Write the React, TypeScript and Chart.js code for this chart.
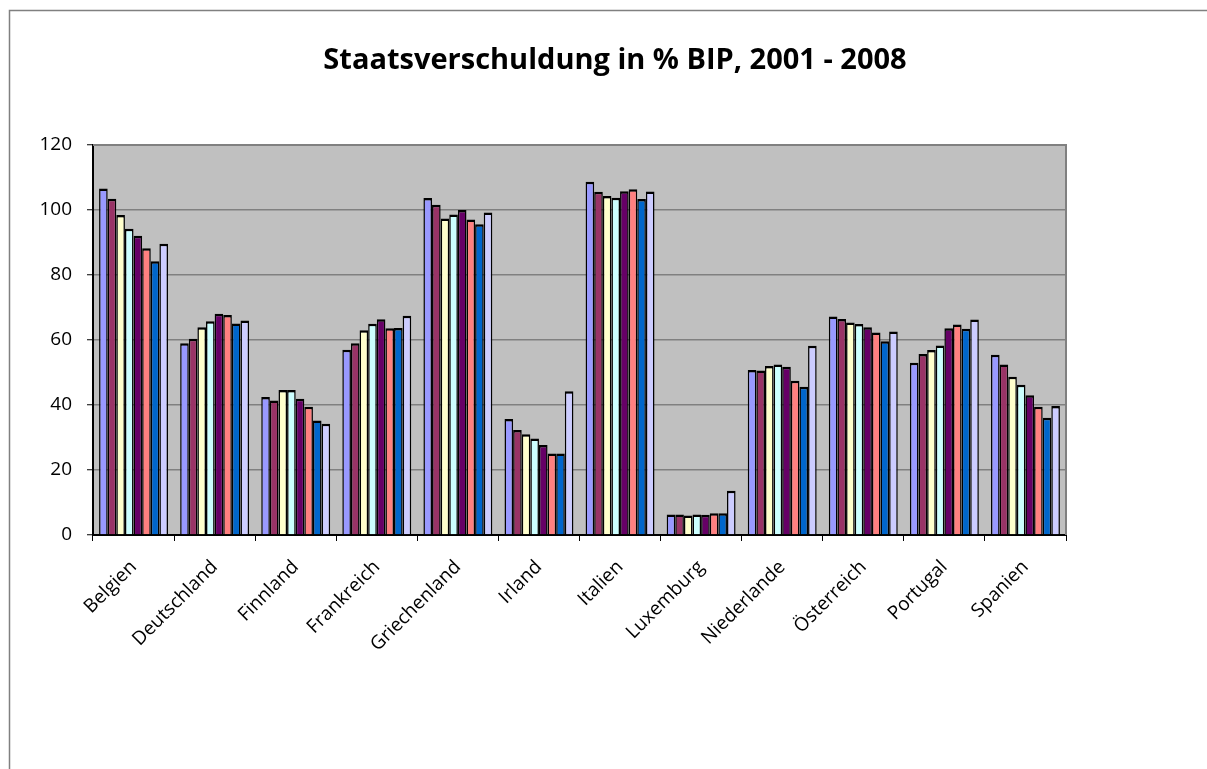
import React, { useEffect, useRef } from "react";
import { Chart, registerables } from "chart.js";

Chart.register(...registerables);

const title = "Staatsverschuldung in % BIP, 2001 - 2008";

const countries = [
  "Belgien", "Deutschland", "Finnland", "Frankreich", "Griechenland", "Irland",
  "Italien", "Luxemburg", "Niederlande", "Österreich", "Portugal", "Spanien",
];

const years = ["2001", "2002", "2003", "2004", "2005", "2006", "2007", "2008"];

const colors = ["#9999FF", "#993366", "#FFFFCC", "#CCFFFF", "#660066", "#FF8080", "#0066CC", "#CCCCFF"];

// values per year, in country order
const y2001 = [106.6, 59.0, 42.5, 57.0, 103.7, 35.7, 108.7, 6.3, 50.8, 67.2, 53.0, 55.5];
const y2002 = [103.5, 60.4, 41.4, 59.0, 101.6, 32.3, 105.6, 6.3, 50.6, 66.5, 55.7, 52.5];
const y2003 = [98.5, 63.9, 44.6, 63.0, 97.4, 31.0, 104.3, 6.0, 52.0, 65.4, 56.9, 48.7];
const y2004 = [94.2, 65.8, 44.6, 65.0, 98.6, 29.7, 103.8, 6.3, 52.5, 64.9, 58.3, 46.2];
const y2005 = [92.1, 68.1, 41.9, 66.4, 100.0, 27.7, 105.8, 6.2, 51.8, 63.9, 63.6, 43.0];
const y2006 = [88.2, 67.7, 39.5, 63.6, 97.1, 25.1, 106.4, 6.7, 47.5, 62.3, 64.8, 39.5];
const y2007 = [84.2, 65.1, 35.2, 63.7, 95.6, 25.1, 103.4, 6.7, 45.6, 59.6, 63.5, 36.1];
const y2008 = [89.6, 66.0, 34.2, 67.5, 99.2, 44.2, 105.7, 13.6, 58.2, 62.6, 66.3, 39.7];

const seriesValues = [y2001, y2002, y2003, y2004, y2005, y2006, y2007, y2008];

const yMin = 0;
const yMax = 120;
const yStep = 20;

const FONT = "'Open Sans', sans-serif";

const decorPlugin = {
  id: "decor",
  beforeDraw(chart: any) {
    const { ctx, chartArea: a, width, height } = chart;
    ctx.save();
    ctx.fillStyle = "#ffffff";
    ctx.fillRect(0, 0, width, height);
    ctx.strokeStyle = "#808080";
    ctx.lineWidth = 1.5;
    ctx.beginPath();
    ctx.moveTo(9.5, height);
    ctx.lineTo(9.5, 10.5);
    ctx.lineTo(width, 10.5);
    ctx.stroke();
    ctx.fillStyle = "#C0C0C0";
    ctx.fillRect(a.left, a.top, a.right - a.left, a.bottom - a.top);
    ctx.restore();
  },
  afterDraw(chart: any) {
    const { ctx, chartArea: a } = chart;
    ctx.save();
    ctx.strokeStyle = "#808080";
    ctx.lineWidth = 2;
    ctx.beginPath();
    ctx.moveTo(a.left, a.top);
    ctx.lineTo(a.right, a.top);
    ctx.lineTo(a.right, a.bottom);
    ctx.stroke();
    ctx.fillStyle = "#000000";
    ctx.font = "bold 29px " + FONT;
    ctx.textAlign = "center";
    ctx.textBaseline = "alphabetic";
    ctx.fillText(title, 615, 69);
    ctx.restore();
  },
};

export default function App() {
  const ref = useRef<HTMLCanvasElement>(null);

  useEffect(() => {
    if (!ref.current) return;
    const chart = new Chart(ref.current, {
      type: "bar",
      data: {
        labels: countries,
        datasets: years.map((yr, i) => ({
          label: yr,
          data: seriesValues[i],
          backgroundColor: colors[i],
          borderColor: "#000000",
          borderWidth: { top: 2.5, left: 1.5, right: 1.5, bottom: 0 },
          borderSkipped: false,
          categoryPercentage: 0.85,
          barPercentage: 1.0,
        })),
      },
      options: {
        responsive: false,
        animation: false,
        layout: { padding: { top: 145, right: 141, left: 0, bottom: 0 } },
        plugins: {
          legend: { display: false },
          title: { display: false },
          tooltip: { enabled: false },
        },
        scales: {
          x: {
            grid: {
              display: true,
              drawOnChartArea: false,
              drawTicks: true,
              tickLength: 6,
              color: "#000000",
              lineWidth: 1,
              offset: true,
            },
            border: { color: "#000000", width: 2 },
            ticks: {
              color: "#000000",
              font: { family: FONT, size: 19 },
              minRotation: 45,
              maxRotation: 45,
              padding: 15,
              autoSkip: false,
            },
            afterFit(scale: any) {
              scale.height = 234;
            },
          },
          y: {
            min: yMin,
            max: yMax,
            ticks: {
              stepSize: yStep,
              color: "#000000",
              font: { family: FONT, size: 19 },
              padding: 15,
            },
            grid: {
              color: "#808080",
              lineWidth: 1.5,
              tickLength: 6,
              tickColor: "#000000",
              tickWidth: 1,
            },
            border: { color: "#000000", width: 2 },
            afterFit(scale: any) {
              scale.width = 93;
            },
          },
        },
      },
      plugins: [decorPlugin],
    });
    return () => chart.destroy();
  }, []);

  return (
    <div style={{ position: "absolute", left: 0, top: 0, width: 1207, height: 769, background: "#fff" }}>
      <canvas ref={ref} width={1207} height={769} style={{ display: "block" }} />
    </div>
  );
}
